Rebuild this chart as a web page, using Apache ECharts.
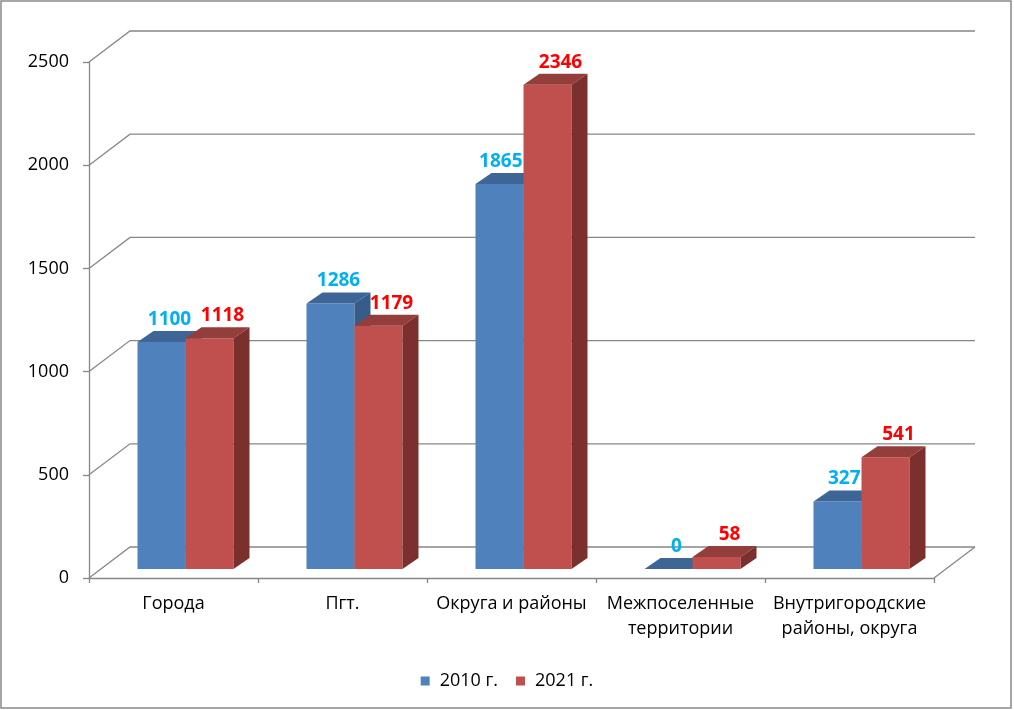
<!DOCTYPE html>
<html>
<head>
<meta charset="utf-8">
<script src="https://cdn.jsdelivr.net/npm/echarts@6/dist/echarts.min.js"></script>
<style>
  html, body { margin: 0; padding: 0; background: #fff; }
  #chart { width: 1014px; height: 710px; }
</style>
</head>
<body>
<div id="chart"></div>
<script>
const categories = ['Города', 'Пгт.', 'Округа и районы', 'Межпоселенные\nтерритории', 'Внутригородские\nрайоны, округа'];
const values2010 = [1100, 1286, 1865, 0, 327];
const values2021 = [1118, 1179, 2346, 58, 541];
const yTicks = [0, 500, 1000, 1500, 2000, 2500];

// pseudo 3D geometry
const WALL_DX = 41, WALL_DY = -31;
const BAR_SX = 12, BAR_SY = -9;
const BAR_DX = 16, BAR_DY = -11;
const BAR_FRAC = 0.284;
const FONT = '"Open Sans", "Liberation Sans", sans-serif';
const LABEL_FONT = 'bold 19px ' + FONT;

const faces = [
    { front: '#4F81BD', top: '#3D6596', side: '#385C89', label: '#00B0F0', shift: 0 },
    { front: '#C0504D', top: '#943E3C', side: '#7C302E', label: '#FF0000', shift: 5 }
];

const measureCtx = document.createElement('canvas').getContext('2d');
function textWidth(s) {
    measureCtx.font = LABEL_FONT;
    return measureCtx.measureText(s).width;
}

const chart = echarts.init(document.getElementById('chart'));

function wallItem(params, api) {
    const cs = params.coordSys;
    const v = api.value(1);
    const y = api.coord([0, v])[1];
    const line = { stroke: '#878787', lineWidth: 1.3, fill: null };
    const children = [{
        type: 'polyline',
        shape: { points: [[cs.x, y], [cs.x + WALL_DX, y + WALL_DY], [cs.x + cs.width + WALL_DX, y + WALL_DY]] },
        style: line
    }];
    if (v === 0) {
        children.push({
            type: 'line',
            shape: { x1: cs.x + cs.width, y1: y, x2: cs.x + cs.width + WALL_DX, y2: y + WALL_DY },
            style: line
        });
    }
    return { type: 'group', children: children };
}

function barBox(idx, c, v, api) {
    const base = api.coord([c, 0]);
    const top = api.coord([c, v]);
    const bw = api.size([1, 0])[0] * BAR_FRAC;
    return {
        bw: bw,
        x0: base[0] + BAR_SX - (idx === 0 ? bw : 0),
        yb: base[1] + BAR_SY,
        yt: top[1] + BAR_SY
    };
}

function barItem(idx) {
    return function (params, api) {
        const b = barBox(idx, api.value(0), api.value(1), api);
        const f = faces[idx];
        const x0 = b.x0, yt = b.yt, yb = b.yb, bw = b.bw;
        return {
            type: 'group',
            children: [
                { type: 'rect', shape: { x: x0, y: yt, width: bw, height: yb - yt }, style: { fill: f.front } },
                { type: 'polygon', shape: { points: [[x0, yt], [x0 + BAR_DX, yt + BAR_DY], [x0 + bw + BAR_DX, yt + BAR_DY], [x0 + bw, yt]] }, style: { fill: f.top } },
                { type: 'polygon', shape: { points: [[x0 + bw, yt], [x0 + bw + BAR_DX, yt + BAR_DY], [x0 + bw + BAR_DX, yb + BAR_DY], [x0 + bw, yb]] }, style: { fill: f.side } }
            ]
        };
    };
}

function labelItem(idx) {
    return function (params, api) {
        const c = api.value(0);
        const v = api.value(1);
        const b = barBox(idx, c, v, api);
        const text = String(v);
        const w = textWidth(text);
        const yText = b.yt + BAR_DY - 2;
        let x = b.x0 + b.bw / 2 + BAR_DX / 2 + faces[idx].shift;
        if (idx === 0) {
            // keep the label off the taller neighbouring bar
            const nb = barBox(1, c, values2021[c], api);
            if (nb.yt + BAR_DY < yText - 6) {
                x = Math.min(x, nb.x0 - 1 - w / 2);
            }
        }
        return {
            type: 'text',
            style: {
                x: x,
                y: yText,
                text: text,
                fill: faces[idx].label,
                font: LABEL_FONT,
                align: 'center',
                verticalAlign: 'bottom'
            }
        };
    };
}

chart.setOption({
    animation: false,
    backgroundColor: '#fff',
    graphic: [{
        type: 'rect',
        shape: { x: 1, y: 1, width: 1010, height: 707 },
        style: { fill: null, stroke: '#898989', lineWidth: 1.5 },
        silent: true
    }],
    legend: {
        top: 667,
        left: 'center',
        icon: 'rect',
        itemWidth: 9,
        itemHeight: 9,
        itemGap: 18,
        textStyle: { fontFamily: FONT, fontSize: 18, color: '#000', padding: [0, 0, 0, 5] },
        data: ['2010 г.', '2021 г.']
    },
    grid: { left: 89, top: 62, right: 80, bottom: 132, containLabel: false },
    xAxis: {
        type: 'category',
        data: categories,
        axisLine: { lineStyle: { color: '#878787', width: 1.3 } },
        axisTick: { show: true, length: 5, lineStyle: { color: '#878787', width: 1.3 } },
        axisLabel: { color: '#000', fontFamily: FONT, fontSize: 18, lineHeight: 25, margin: 13, interval: 0 },
        splitLine: { show: false }
    },
    yAxis: {
        type: 'value',
        min: 0,
        max: 2500,
        interval: 500,
        axisLine: { show: true, lineStyle: { color: '#878787', width: 1.3 } },
        axisTick: { show: true, length: 6, lineStyle: { color: '#878787', width: 1.3 } },
        axisLabel: { color: '#000', fontFamily: FONT, fontSize: 18, margin: 20, formatter: v => String(v) },
        splitLine: { show: false }
    },
    series: [
        {
            type: 'custom',
            name: 'wall',
            silent: true,
            z: 1,
            renderItem: wallItem,
            data: yTicks.map(v => [0, v])
        },
        {
            type: 'custom',
            name: '2010 г.',
            z: 2,
            itemStyle: { color: faces[0].front },
            renderItem: barItem(0),
            data: values2010.map((v, i) => [i, v])
        },
        {
            type: 'custom',
            name: '2021 г.',
            z: 3,
            itemStyle: { color: faces[1].front },
            renderItem: barItem(1),
            data: values2021.map((v, i) => [i, v])
        },
        {
            type: 'custom',
            name: '2010 г.',
            z: 5,
            silent: true,
            renderItem: labelItem(0),
            data: values2010.map((v, i) => [i, v])
        },
        {
            type: 'custom',
            name: '2021 г.',
            z: 5,
            silent: true,
            renderItem: labelItem(1),
            data: values2021.map((v, i) => [i, v])
        }
    ]
});
</script>
</body>
</html>
